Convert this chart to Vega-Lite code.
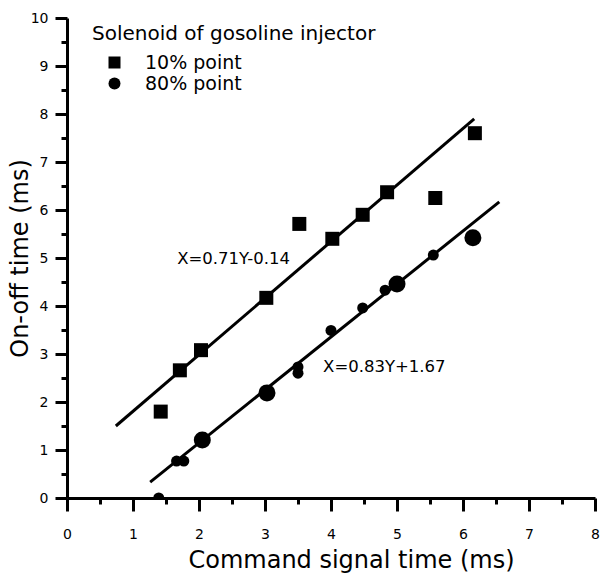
{
  "$schema": "https://vega.github.io/schema/vega-lite/v6.json",
  "width": 528,
  "height": 480,
  "autosize": "none",
  "padding": {"left": 67, "top": 18, "right": 6, "bottom": 81},
  "background": "white",
  "config": {
    "view": {"stroke": null},
    "font": "DejaVu Sans",
    "axis": {
      "grid": false,
      "domainColor": "black",
      "domainWidth": 3,
      "tickColor": "black",
      "tickWidth": 3,
      "labelFont": "DejaVu Sans",
      "labelColor": "black",
      "labelFontSize": 14,
      "titleFont": "DejaVu Sans",
      "titleFontWeight": "normal",
      "titleColor": "black",
      "titleFontSize": 24
    }
  },
  "resolve": {"axis": {"x": "independent", "y": "independent"}},
  "datasets": {
    "pts": [
      {"series": "10% point", "cmd": 1.42, "t": 1.80, "n": 1},
      {"series": "10% point", "cmd": 1.71, "t": 2.66, "n": 1},
      {"series": "10% point", "cmd": 2.03, "t": 3.08, "n": 1},
      {"series": "10% point", "cmd": 3.02, "t": 4.17, "n": 1},
      {"series": "10% point", "cmd": 3.52, "t": 5.71, "n": 1},
      {"series": "10% point", "cmd": 4.02, "t": 5.40, "n": 1},
      {"series": "10% point", "cmd": 4.48, "t": 5.90, "n": 1},
      {"series": "10% point", "cmd": 4.85, "t": 6.37, "n": 1},
      {"series": "10% point", "cmd": 5.58, "t": 6.25, "n": 1},
      {"series": "10% point", "cmd": 6.18, "t": 7.60, "n": 1},
      {"series": "80% point", "cmd": 1.39, "t": 0.0, "n": 1},
      {"series": "80% point", "cmd": 1.66, "t": 0.77, "n": 1},
      {"series": "80% point", "cmd": 1.77, "t": 0.77, "n": 1},
      {"series": "80% point", "cmd": 2.05, "t": 1.21, "n": 2},
      {"series": "80% point", "cmd": 3.03, "t": 2.19, "n": 2},
      {"series": "80% point", "cmd": 3.50, "t": 2.73, "n": 1},
      {"series": "80% point", "cmd": 3.50, "t": 2.60, "n": 1},
      {"series": "80% point", "cmd": 4.00, "t": 3.49, "n": 1},
      {"series": "80% point", "cmd": 4.48, "t": 3.96, "n": 1},
      {"series": "80% point", "cmd": 4.82, "t": 4.33, "n": 1},
      {"series": "80% point", "cmd": 5.00, "t": 4.46, "n": 2},
      {"series": "80% point", "cmd": 5.55, "t": 5.06, "n": 1},
      {"series": "80% point", "cmd": 6.15, "t": 5.42, "n": 2}
    ],
    "fits": [
      {"fit": "10%", "cmd": 0.74, "t": 1.50},
      {"fit": "10%", "cmd": 6.17, "t": 7.90},
      {"fit": "80%", "cmd": 1.26, "t": 0.33},
      {"fit": "80%", "cmd": 6.55, "t": 6.17}
    ],
    "notes": [
      {"label": "X=0.71Y-0.14", "cmd": 1.67, "t": 4.98},
      {"label": "X=0.83Y+1.67", "cmd": 3.88, "t": 2.73}
    ]
  },
  "layer": [
    {
      "data": {"name": "fits"},
      "mark": {"type": "line", "color": "black", "strokeWidth": 3},
      "encoding": {
        "x": {
          "field": "cmd", "type": "quantitative",
          "scale": {"domain": [0, 8], "nice": false},
          "axis": {
            "orient": "bottom",
            "title": "Command signal time (ms)",
            "values": [0, 1, 2, 3, 4, 5, 6, 7, 8],
            "format": "d",
            "domainWidth": 3,
            "tickWidth": 3,
            "tickSize": 13,
            "labelPadding": 16,
            "labelFlush": false,
            "titleX": 284,
            "titleY": 62,
            "titleBaseline": "middle",
            "titleAnchor": "middle"
          }
        },
        "y": {
          "field": "t", "type": "quantitative",
          "scale": {"domain": [0, 10], "nice": false},
          "axis": {
            "orient": "left",
            "title": "On-off time (ms)",
            "values": [0, 1, 2, 3, 4, 5, 6, 7, 8, 9, 10],
            "format": "d",
            "domainWidth": 3,
            "tickWidth": 3,
            "tickSize": 12,
            "labelPadding": 7,
            "labelFlush": false,
            "titleX": -47,
            "titleY": 240,
            "titleBaseline": "middle",
            "titleAnchor": "middle"
          }
        },
        "detail": {"field": "fit"}
      }
    },
    {
      "data": {"name": "pts"},
      "mark": {"type": "point", "filled": true, "color": "black", "opacity": 1, "clip": true},
      "encoding": {
        "x": {
          "field": "cmd", "type": "quantitative",
          "axis": {
            "orient": "bottom",
            "title": null,
            "values": [0.5, 1.5, 2.5, 3.5, 4.5, 5.5, 6.5, 7.5],
            "labels": false,
            "domain": false,
            "tickWidth": 3,
            "tickSize": 6
          }
        },
        "y": {
          "field": "t", "type": "quantitative",
          "axis": {
            "orient": "left",
            "title": null,
            "values": [0.5, 1.5, 2.5, 3.5, 4.5, 5.5, 6.5, 7.5, 8.5, 9.5],
            "labels": false,
            "domain": false,
            "tickWidth": 3,
            "tickSize": 6
          }
        },
        "shape": {
          "field": "series", "type": "nominal",
          "scale": {"domain": ["10% point", "80% point"], "range": ["square", "circle"]},
          "legend": {
            "title": "Solenoid of gosoline injector",
            "orient": "none",
            "legendX": 25,
            "legendY": 6,
            "titleFont": "DejaVu Sans",
            "titleFontSize": 20,
            "titleFontWeight": "normal",
            "titleColor": "black",
            "titleLimit": 500,
            "titlePadding": 9,
            "labelFont": "DejaVu Sans",
            "labelFontSize": 19,
            "labelColor": "black",
            "labelOffset": 21,
            "symbolOffset": 13,
            "symbolSize": 144,
            "symbolFillColor": "black",
            "symbolStrokeWidth": 0,
            "rowPadding": 1
          }
        },
        "size": {
          "condition": {"test": "datum.series === '10% point'", "value": 196},
          "field": "n", "type": "quantitative",
          "scale": {"domain": [1, 2], "range": [121, 289]},
          "legend": null
        }
      }
    },
    {
      "data": {"name": "notes"},
      "mark": {"type": "text", "align": "left", "baseline": "middle", "font": "DejaVu Sans", "fontSize": 16.5, "color": "black"},
      "encoding": {
        "x": {"field": "cmd", "type": "quantitative", "axis": null},
        "y": {"field": "t", "type": "quantitative", "axis": null},
        "text": {"field": "label"}
      }
    }
  ]
}
